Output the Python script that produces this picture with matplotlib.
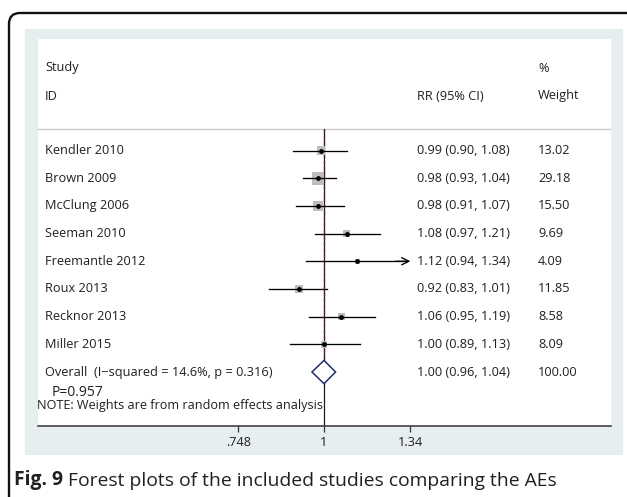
import matplotlib
matplotlib.use("Agg")
import matplotlib.pyplot as plt
import numpy as np
from matplotlib.patches import FancyBboxPatch, Rectangle, Polygon
from matplotlib.transforms import blended_transform_factory

plt.rcParams['font.family'] = ['Open Sans', 'DejaVu Sans']

studies = ["Kendler 2010", "Brown 2009", "McClung 2006", "Seeman 2010",
           "Freemantle 2012", "Roux 2013", "Recknor 2013", "Miller 2015"]
rr = [0.99, 0.98, 0.98, 1.08, 1.12, 0.92, 1.06, 1.00]
lo = [0.90, 0.93, 0.91, 0.97, 0.94, 0.83, 0.95, 0.89]
hi = [1.08, 1.04, 1.07, 1.21, 1.34, 1.01, 1.19, 1.13]
weights = [13.02, 29.18, 15.50, 9.69, 4.09, 11.85, 8.58, 8.09]
overall = (1.00, 0.96, 1.04)
overall_label = "Overall  (I\u2212squared = 14.6%, p = 0.316)"
tick_vals = [0.748, 1.0, 1.34]
tick_labels = [".748", "1", "1.34"]

W, H = 627, 497
fig = plt.figure(figsize=(W / 100, H / 100), dpi=100)
fig.patch.set_facecolor("white")

bg = fig.add_axes([0, 0, 1, 1])
bg.set_xlim(0, W)
bg.set_ylim(H, 0)
bg.axis("off")

bg.add_patch(FancyBboxPatch((9, 13), 640, 520, boxstyle="round,pad=0,rounding_size=11",
                            fc="white", ec="#111111", lw=1.7, clip_on=True))
bg.add_patch(Rectangle((25, 29), 598, 426, fc="#e7eef0", ec="none"))
bg.add_patch(Rectangle((38, 39), 573, 387, fc="white", ec="none"))

txtc = "#231f20"
t1 = bg.text(14, 480, "Fig. 9", fontsize=13.9, fontweight="bold", color=txtc,
             va="center", ha="left")
bg.annotate(" Forest plots of the included studies comparing the AEs", xy=(1, 0),
            xycoords=t1, va="bottom", ha="left", fontsize=13.9, color=txtc)

x0, x1 = 38, 611
y_top, y_bot = 39, 426
ax = fig.add_axes([x0 / W, 1 - y_bot / H, (x1 - x0) / W, (y_bot - y_top) / H])
ax.set_facecolor("none")
ax.set_xscale("log")
ppl = 295.0
x_null = 324
ax.set_xlim(np.exp((x0 - x_null) / ppl), np.exp((x1 - x_null) / ppl))
row0_px, row_sp = 150.5, 27.69
def prow(px):
    return (px - row0_px) / row_sp
ax.set_ylim(prow(y_bot), prow(y_top))

for s in ["top", "left", "right"]:
    ax.spines[s].set_visible(False)
ax.spines["bottom"].set_color("#333333")
ax.spines["bottom"].set_linewidth(1.1)
ax.set_yticks([])
ax.set_xticks(tick_vals)
ax.set_xticklabels(tick_labels)
ax.xaxis.set_minor_locator(matplotlib.ticker.NullLocator())
ax.tick_params(axis="x", direction="out", length=4, width=0.9, color="#333333",
               labelsize=9.2, labelcolor=txtc, pad=3.5)

n = len(studies)
rows = np.arange(n)
xmax_range = max(tick_vals)

ax.axhline(prow(129), color="#c8c8c8", lw=0.9)
ax.plot([1, 1], [prow(129), prow(y_bot)], color="#1a1a1a", lw=0.9, zorder=2)
ax.plot([overall[0]] * 2, [prow(129), n - 0.45], color="#5e1a1a", lw=0.9,
        ls=(0, (3, 2)), zorder=3)

side_px = 2.35 * np.sqrt(np.array(weights))
ax.scatter(rr, rows, marker="s", s=(side_px * 0.72) ** 2, color="#bdbdbd",
           edgecolors="none", zorder=4)
for i in range(n):
    if hi[i] >= xmax_range:
        ax.plot([lo[i], hi[i] * 0.985], [i, i], color="black", lw=0.95, zorder=5)
        ax.annotate("", xy=(hi[i], i), xytext=(hi[i] * 0.95, i),
                    arrowprops=dict(arrowstyle="->", color="black", lw=0.95,
                                    mutation_scale=13, shrinkA=0, shrinkB=0), zorder=5)
    else:
        ax.plot([lo[i], hi[i]], [i, i], color="black", lw=0.95, zorder=5)
ax.scatter(rr, rows, marker="o", s=6, color="black", zorder=6)

dh = 0.42
diam = Polygon([[overall[1], n], [overall[0], n - dh], [overall[2], n], [overall[0], n + dh]],
               closed=True, fc="white", ec="#1f2d6b", lw=1.1, zorder=6)
ax.add_patch(diam)

tr = blended_transform_factory(ax.transAxes, ax.transData)
def fx(px):
    return (px - x0) / (x1 - x0)
fs = 9.2
ax.text(fx(45), prow(68), "Study", transform=tr, fontsize=fs, color=txtc, va="center")
ax.text(fx(45), prow(96), "ID", transform=tr, fontsize=fs, color=txtc, va="center")
ax.text(fx(417), prow(96), "RR (95% CI)", transform=tr, fontsize=fs, color=txtc, va="center")
ax.text(fx(538), prow(69), "%", transform=tr, fontsize=fs, color=txtc, va="center")
ax.text(fx(538), prow(96), "Weight", transform=tr, fontsize=fs, color=txtc, va="center")

for i in range(n):
    ax.text(fx(45), i, studies[i], transform=tr, fontsize=fs, color=txtc, va="center")
    ax.text(fx(417), i, f"{rr[i]:.2f} ({lo[i]:.2f}, {hi[i]:.2f})", transform=tr,
            fontsize=fs, color=txtc, va="center")
    ax.text(fx(538), i, f"{weights[i]:.2f}", transform=tr, fontsize=fs, color=txtc, va="center")

ax.text(fx(45), n, overall_label, transform=tr, fontsize=fs, color=txtc, va="center")
ax.text(fx(417), n, f"{overall[0]:.2f} ({overall[1]:.2f}, {overall[2]:.2f})", transform=tr,
        fontsize=fs, color=txtc, va="center")
ax.text(fx(538), n, f"{sum(weights):.2f}", transform=tr, fontsize=fs, color=txtc, va="center")
ax.text(fx(52), prow(393), "P=0.957", transform=tr, fontsize=10, color=txtc, va="center")
ax.text(fx(37), prow(406), "NOTE: Weights are from random effects analysis", transform=tr,
        fontsize=9.1, color=txtc, va="center")

fig.savefig("out.png", dpi=100)
